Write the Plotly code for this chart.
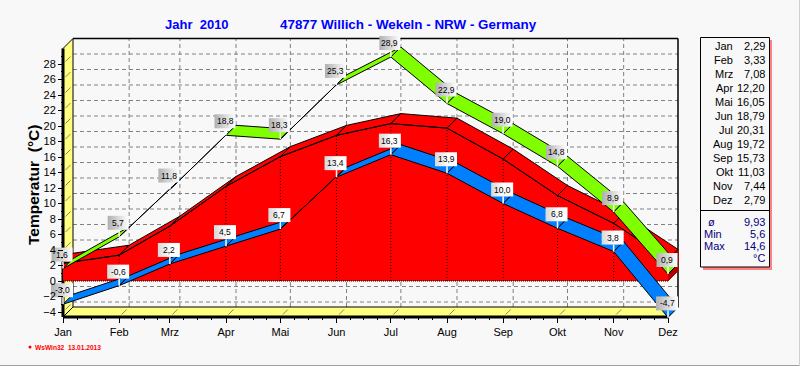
import plotly.graph_objects as go

months = ["Jan", "Feb", "Mrz", "Apr", "Mai", "Jun", "Jul", "Aug", "Sep", "Okt", "Nov", "Dez"]
day_of_year = [0, 31, 59, 90, 120, 151, 181, 212, 243, 273, 304, 334]
temp_max = [1.6, 5.7, 11.8, 18.8, 18.3, 25.3, 28.9, 22.9, 19.0, 14.8, 8.9, 0.9]
temp_min = [-3.0, -0.6, 2.2, 4.5, 6.7, 13.4, 16.3, 13.9, 10.0, 6.8, 3.8, -4.7]
temp_mean = [2.29, 3.33, 7.08, 12.20, 16.05, 18.79, 20.31, 19.72, 15.73, 11.03, 7.44, 2.79]
max_labels = ["1,6", "5,7", "11,8", "18,8", "18,3", "25,3", "28,9", "22,9", "19,0", "14,8", "8,9", "0,9"]
min_labels = ["-3,0", "-0,6", "2,2", "4,5", "6,7", "13,4", "16,3", "13,9", "10,0", "6,8", "3,8", "-4,7"]
table_values = ["2,29", "3,33", "7,08", "12,20", "16,05", "18,79", "20,31", "19,72", "15,73", "11,03", "7,44", "2,79"]
stat_names = ["ø", "Min", "Max"]
stat_values = ["9,93", "5,6", "14,6"]
y_ticks = list(range(-4, 30, 2))

# pixel geometry
W, H = 800, 366
PL, PR, PT, PB = 40, 700, 25, 330      # plot-area box
X0, Y0 = 63, 281                       # pixel of day 0 / value 0 on the front plane
SX, SY = 605 / 334, 7.75               # px per day, px per degree
DEPTH = 10                             # 3D depth in px
DX, DY = DEPTH / SX, DEPTH / SY
x_right = (678 - X0) / SX
x_end = day_of_year[-1]
v_floor = (Y0 - 317) / SY
v_top = 30

GRID = "#808080"
RED, BLUE, GREEN, YELLOW = "#FF0000", "#0080FF", "#80FF00", "#FFFF80"
BG = "#F8F8F8"
FONT = "Liberation Sans"
NAVY = "#000080"


def paper_x(px):
    return (px - PL) / (PR - PL)


def paper_y(py):
    return (PB - py) / (PB - PT)


fig = go.Figure()


def poly(xs, ys, fill, line="black", width=1):
    fig.add_trace(go.Scatter(x=xs + xs[:1], y=ys + ys[:1], mode="lines", fill="toself",
                             fillcolor=fill, line=dict(color=line, width=width),
                             hoverinfo="skip", showlegend=False))


def line(xs, ys, color="black", width=1, dash=None):
    fig.add_trace(go.Scatter(x=xs, y=ys, mode="lines",
                             line=dict(color=color, width=width, dash=dash),
                             hoverinfo="skip", showlegend=False))


def ribbon(values, fill):
    for i in range(len(values) - 1):
        x1, x2 = day_of_year[i], day_of_year[i + 1]
        v1, v2 = values[i], values[i + 1]
        poly([x1, x2, x2 + DX, x1 + DX], [v1, v2, v2 + DY, v1 + DY], fill)


shapes = []


def add_shape(**kw):
    kw.setdefault("layer", "below")
    shapes.append(kw)


# back-plane grid
for v in y_ticks:
    add_shape(type="line", xref="x", yref="y", x0=DX, x1=x_right, y0=v + DY, y1=v + DY,
              line=dict(color=GRID, width=1, dash="4px,3px"))
for d in day_of_year[1:-1]:
    add_shape(type="line", xref="x", yref="y", x0=d + DX, x1=d + DX, y0=v_floor + DY, y1=v_top + DY,
              line=dict(color=GRID, width=1, dash="4px,3px"))

# left wall and floor
poly([0, DX, DX, 0], [v_floor, v_floor + DY, v_top + DY, v_top], YELLOW, width=1)
poly([0, x_end, x_end + DX, DX], [v_floor, v_floor, v_floor + DY, v_floor + DY], YELLOW, width=1)
for v in y_ticks:
    line([DX * 0.25, DX * 0.75], [v + DY * 0.25, v + DY * 0.75], GRID, 1)
for d in day_of_year[1:-1]:
    line([d + DX * 0.25, d + DX * 0.75], [v_floor + DY * 0.25, v_floor + DY * 0.75], GRID, 1)

# frame
line([DX, x_right], [v_top + DY, v_top + DY], "black", 1.5)
line([x_right, x_right], [v_floor + DY, v_top + DY], "black", 1.5)
line([0, 0], [v_floor, v_top], "black", 3)
line([0, x_end], [v_floor, v_floor], "black", 3)

# mean temperature: red solid
poly([x_end, x_end, x_end + DX, x_end + DX],
     [0, temp_mean[-1], temp_mean[-1] + DY, DY], "#B00000", line="#B00000")
fig.add_trace(go.Scatter(x=[day_of_year[0]] + day_of_year + [x_end],
                         y=[0] + temp_mean + [0], mode="lines", fill="toself",
                         fillcolor=RED, line=dict(color=RED, width=0),
                         hoverinfo="skip", showlegend=False))
ribbon(temp_mean, RED)
line(day_of_year, temp_mean)
for d, m in zip(day_of_year[1:-1], temp_mean[1:-1]):
    line([d, d], [0, m], "black", 1, "1px,2px")
line([0, x_end], [0, 0], "black", 1, "1px,1px")

ribbon(temp_min, BLUE)
ribbon(temp_max, GREEN)


def label(d, v, text, width, scale):
    cx = d - 1 / SX
    low = v + 7 / SY
    high = low + 14 / SY
    hw = width / 2 / SX
    line([d, d], [v, low], "white", 1.5)
    fig.add_trace(go.Scatter(
        x=[cx - hw, cx + hw, cx + hw, cx - hw, cx - hw],
        y=[low, low, high, high, low], mode="lines", fill="toself",
        fillgradient=dict(type="horizontal", colorscale=scale, start=cx - hw, stop=cx + hw),
        line=dict(width=0), hoverinfo="skip", showlegend=False))
    fig.add_annotation(x=cx, y=(low + high) / 2, text=text, showarrow=False,
                       xanchor="center", yanchor="middle",
                       font=dict(family=FONT, size=8.5, color="black"), borderpad=0)


GRAY_SCALE = [[0, "#B0B0B0"], [1, "#FFFFFF"]]
LIGHT_SCALE = [[0, "#D8D8D8"], [0.6, "#FFFFFF"], [1, "#FFFFFF"]]
for i, d in enumerate(day_of_year):
    label(d, temp_max[i], max_labels[i], 21, GRAY_SCALE)
    edge = i in (0, 11)
    label(d, temp_min[i], min_labels[i], 22, GRAY_SCALE if edge else LIGHT_SCALE)

# titles
annotations = [
    dict(x=paper_x(197), y=paper_y(24), xanchor="center", text="<b>Jahr\u00a0\u00a02010</b>",
         font=dict(family=FONT, size=13, color="#0000FF")),
    dict(x=paper_x(408), y=paper_y(24), xanchor="center", text="<b>47877 Willich - Wekeln - NRW - Germany</b>",
         font=dict(family=FONT, size=13.4, color="#0000FF")),
    dict(x=paper_x(33), y=paper_y(185), xanchor="center", text="<b>Temperatur\u00a0\u00a0(°C)</b>", textangle=-90,
         font=dict(family=FONT, size=15.5, color="black")),
    dict(x=paper_x(34), y=paper_y(347), xanchor="left", text="<b>WsWin32\u00a0\u00a013.01.2013</b>",
         font=dict(family=FONT, size=6.6, color="#FF0000")),
]

# side table
add_shape(type="rect", xref="paper", yref="paper", x0=paper_x(703), x1=paper_x(772),
          y0=paper_y(40), y1=paper_y(270), fillcolor="#FF8080", line=dict(width=0), layer="above")
add_shape(type="rect", xref="paper", yref="paper", x0=paper_x(700.5), x1=paper_x(769.5),
          y0=paper_y(37.5), y1=paper_y(267), fillcolor=BG, line=dict(color="black", width=1), layer="above")
add_shape(type="line", xref="paper", yref="paper", x0=paper_x(700.5), x1=paper_x(769.5),
          y0=paper_y(210.5), y1=paper_y(210.5), line=dict(color="black", width=1), layer="above")
add_shape(type="circle", xref="paper", yref="paper", x0=paper_x(28.5), x1=paper_x(31.5),
          y0=paper_y(345.5), y1=paper_y(348.5), fillcolor="#FF0000", line=dict(width=0), layer="above")
add_shape(type="line", xref="paper", yref="paper", x0=paper_x(0), x1=paper_x(800),
          y0=paper_y(365.5), y1=paper_y(365.5), line=dict(color="#A0A0A0", width=1), layer="above")
add_shape(type="line", xref="paper", yref="paper", x0=paper_x(799.5), x1=paper_x(799.5),
          y0=paper_y(0), y1=paper_y(366), line=dict(color="#D0D0D0", width=1), layer="above")

for i, (m, v) in enumerate(zip(months, table_values)):
    y = 46 + i * 14
    annotations.append(dict(x=paper_x(734), y=paper_y(y), xanchor="right", text=m,
                            font=dict(family=FONT, size=11, color="black")))
    annotations.append(dict(x=paper_x(766), y=paper_y(y), xanchor="right", text=v,
                            font=dict(family=FONT, size=11, color="black")))
for i, (n, v) in enumerate(zip(stat_names, stat_values)):
    y = 222 + i * 12
    x_n = 707 if i == 0 else 703
    annotations.append(dict(x=paper_x(x_n), y=paper_y(y), xanchor="left", text=n,
                            font=dict(family=FONT, size=11, color=NAVY)))
    annotations.append(dict(x=paper_x(766), y=paper_y(y), xanchor="right", text=v,
                            font=dict(family=FONT, size=11, color=NAVY)))
annotations.append(dict(x=paper_x(766), y=paper_y(258), xanchor="right", text="°C",
                        font=dict(family=FONT, size=11, color=NAVY)))
for a in annotations:
    a.update(xref="paper", yref="paper", showarrow=False, borderpad=0, yanchor="middle")
    fig.add_annotation(**a)

minor_x = []
for a, b in zip(day_of_year[:-1], day_of_year[1:]):
    minor_x += [a + (b - a) * k / 4 for k in (1, 2, 3)]

fig.update_layout(
    width=W, height=H, margin=dict(l=PL, r=W - PR, t=PT, b=H - PB, pad=0),
    paper_bgcolor=BG, plot_bgcolor=BG, showlegend=False, shapes=shapes,
    font=dict(family=FONT, size=11, color="black"),
    xaxis=dict(range=[(PL - X0) / SX, (PR - X0) / SX], anchor="free",
               position=(PB - 317) / (PB - PT), showgrid=False, zeroline=False, showline=False,
               tickmode="array", tickvals=day_of_year, ticktext=months,
               ticks="outside", ticklen=5, tickwidth=1, tickcolor="black",
               minor=dict(ticks="outside", tickmode="array", tickvals=minor_x, ticklen=2,
                          tickcolor="black", showgrid=False),
               tickfont=dict(family=FONT, size=11, color="black")),
    yaxis=dict(range=[(Y0 - PB) / SY, (Y0 - PT) / SY], anchor="free",
               position=(X0 - PL) / (PR - PL), showgrid=False, zeroline=False, showline=False,
               tickmode="array", tickvals=y_ticks,
               ticks="outside", ticklen=5, tickwidth=1, tickcolor="black",
               minor=dict(ticks="outside", tickmode="array", tickvals=list(range(-3, 31, 2)),
                          ticklen=2, tickcolor="black", showgrid=False),
               tickfont=dict(family=FONT, size=11, color="black")),
)

fig.write_html("out.html", config={"displayModeBar": False},
               post_script="document.body.style.margin='0';document.body.style.background='#F8F8F8';document.documentElement.style.overflow='hidden';")
